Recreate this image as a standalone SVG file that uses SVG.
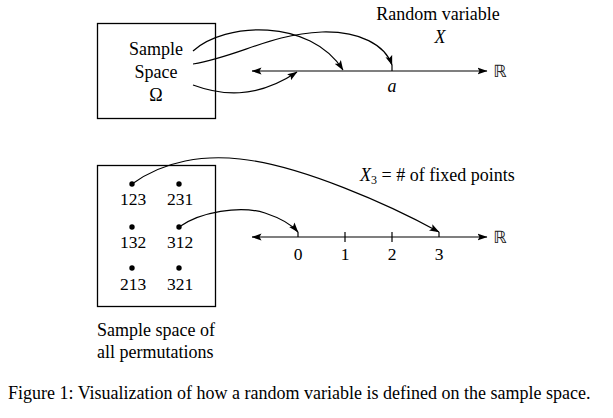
<svg xmlns="http://www.w3.org/2000/svg" width="613" height="418" viewBox="0 0 613 418">
<style>
text{font-family:"Liberation Serif","Times New Roman",serif;font-size:18px;fill:#000}
.n{font-size:17.5px}
.c{text-anchor:middle}
.i{font-style:italic}
.bb{font-family:"DejaVu Sans",sans-serif;font-size:17px;fill:#222}
.box{fill:none;stroke:#000;stroke-width:1.3}
.ln{fill:none;stroke:#000;stroke-width:1.2}
.arr{fill:none;stroke:#000;stroke-width:1.2;marker-end:url(#ah)}
.axis{fill:none;stroke:#000;stroke-width:1.2;marker-start:url(#ahs);marker-end:url(#ah)}
</style>
<defs>
<marker id="ah" viewBox="0 0 10 8" refX="9.5" refY="4" markerWidth="10" markerHeight="8" markerUnits="userSpaceOnUse" orient="auto"><path d="M0,0.5 L10,4 L0,7.5 L2,4 Z" fill="#000"/></marker>
<marker id="ahs" viewBox="0 0 10 8" refX="0.5" refY="4" markerWidth="10" markerHeight="8" markerUnits="userSpaceOnUse" orient="auto"><path d="M10,0.5 L0,4 L10,7.5 L8,4 Z" fill="#000"/></marker>
</defs>

<g id="sample-space">
<rect class="box" x="97.5" y="23.5" width="118" height="95"/>
<text class="c" x="156" y="55">Sample</text>
<text class="c" x="156" y="78">Space</text>
<text class="c" x="156" y="101">Ω</text>
</g>

<g id="real-line-top">
<line class="axis" x1="252" y1="71" x2="487" y2="71"/>
<line class="ln" x1="392" y1="65" x2="392" y2="71"/>
<text class="c i" x="392" y="92">a</text>
<text class="bb" x="493" y="77">ℝ</text>
</g>

<g id="label-X">
<text class="c" x="438" y="20">Random variable</text>
<text class="c i" x="440" y="43">X</text>
</g>

<g id="permutations">
<rect class="box" x="97.5" y="165.5" width="118" height="141"/>
<circle cx="132" cy="184" r="2.7"/>
<circle cx="179" cy="184" r="2.7"/>
<circle cx="132" cy="227" r="2.7"/>
<circle cx="179" cy="227" r="2.7"/>
<circle cx="132" cy="268" r="2.7"/>
<circle cx="179" cy="268" r="2.7"/>
<text class="c n" x="133" y="205">123</text>
<text class="c n" x="180" y="205">231</text>
<text class="c n" x="133" y="248">132</text>
<text class="c n" x="180" y="248">312</text>
<text class="c n" x="133" y="290">213</text>
<text class="c n" x="180" y="290">321</text>
<text x="97" y="336">Sample space of</text>
<text x="97" y="358">all permutations</text>
</g>

<g id="real-line-bottom">
<line class="axis" x1="252" y1="237" x2="487" y2="237"/>
<line class="ln" x1="298" y1="232" x2="298" y2="237"/>
<line class="ln" x1="345" y1="232" x2="345" y2="242"/>
<line class="ln" x1="392" y1="232" x2="392" y2="242"/>
<line class="ln" x1="439" y1="232" x2="439" y2="237"/>
<text class="c n" x="298" y="260">0</text>
<text class="c n" x="345" y="260">1</text>
<text class="c n" x="392" y="260">2</text>
<text class="c n" x="439" y="260">3</text>
<text class="bb" x="493" y="243">ℝ</text>
</g>

<g id="label-X3">
<text x="360" y="181"><tspan class="i">X</tspan><tspan font-size="12" dy="3">3</tspan><tspan dy="-3"> = # of fixed points</tspan></text>
</g>

<g id="connectors">
<path class="arr" d="M193,51 C225,22 310,18 343,70"/>
<path class="arr" d="M193,64 C240,56 270,34 322,32 C360,31 385,45 392,65"/>
<path class="arr" d="M193,85 C220,95 255,100 297,72"/>
<path class="arr" d="M132,184 C165,160 205,155 240,159 C300,165 390,205 439,232"/>
<path class="arr" d="M179,227 C200,212 240,205 265,213 C280,218 292,225 298,232"/>
</g>

<g id="caption">
<text x="8" y="399" font-size="18.7">Figure 1: Visualization of how a random variable is defined on the sample space.</text>
</g>
</svg>
